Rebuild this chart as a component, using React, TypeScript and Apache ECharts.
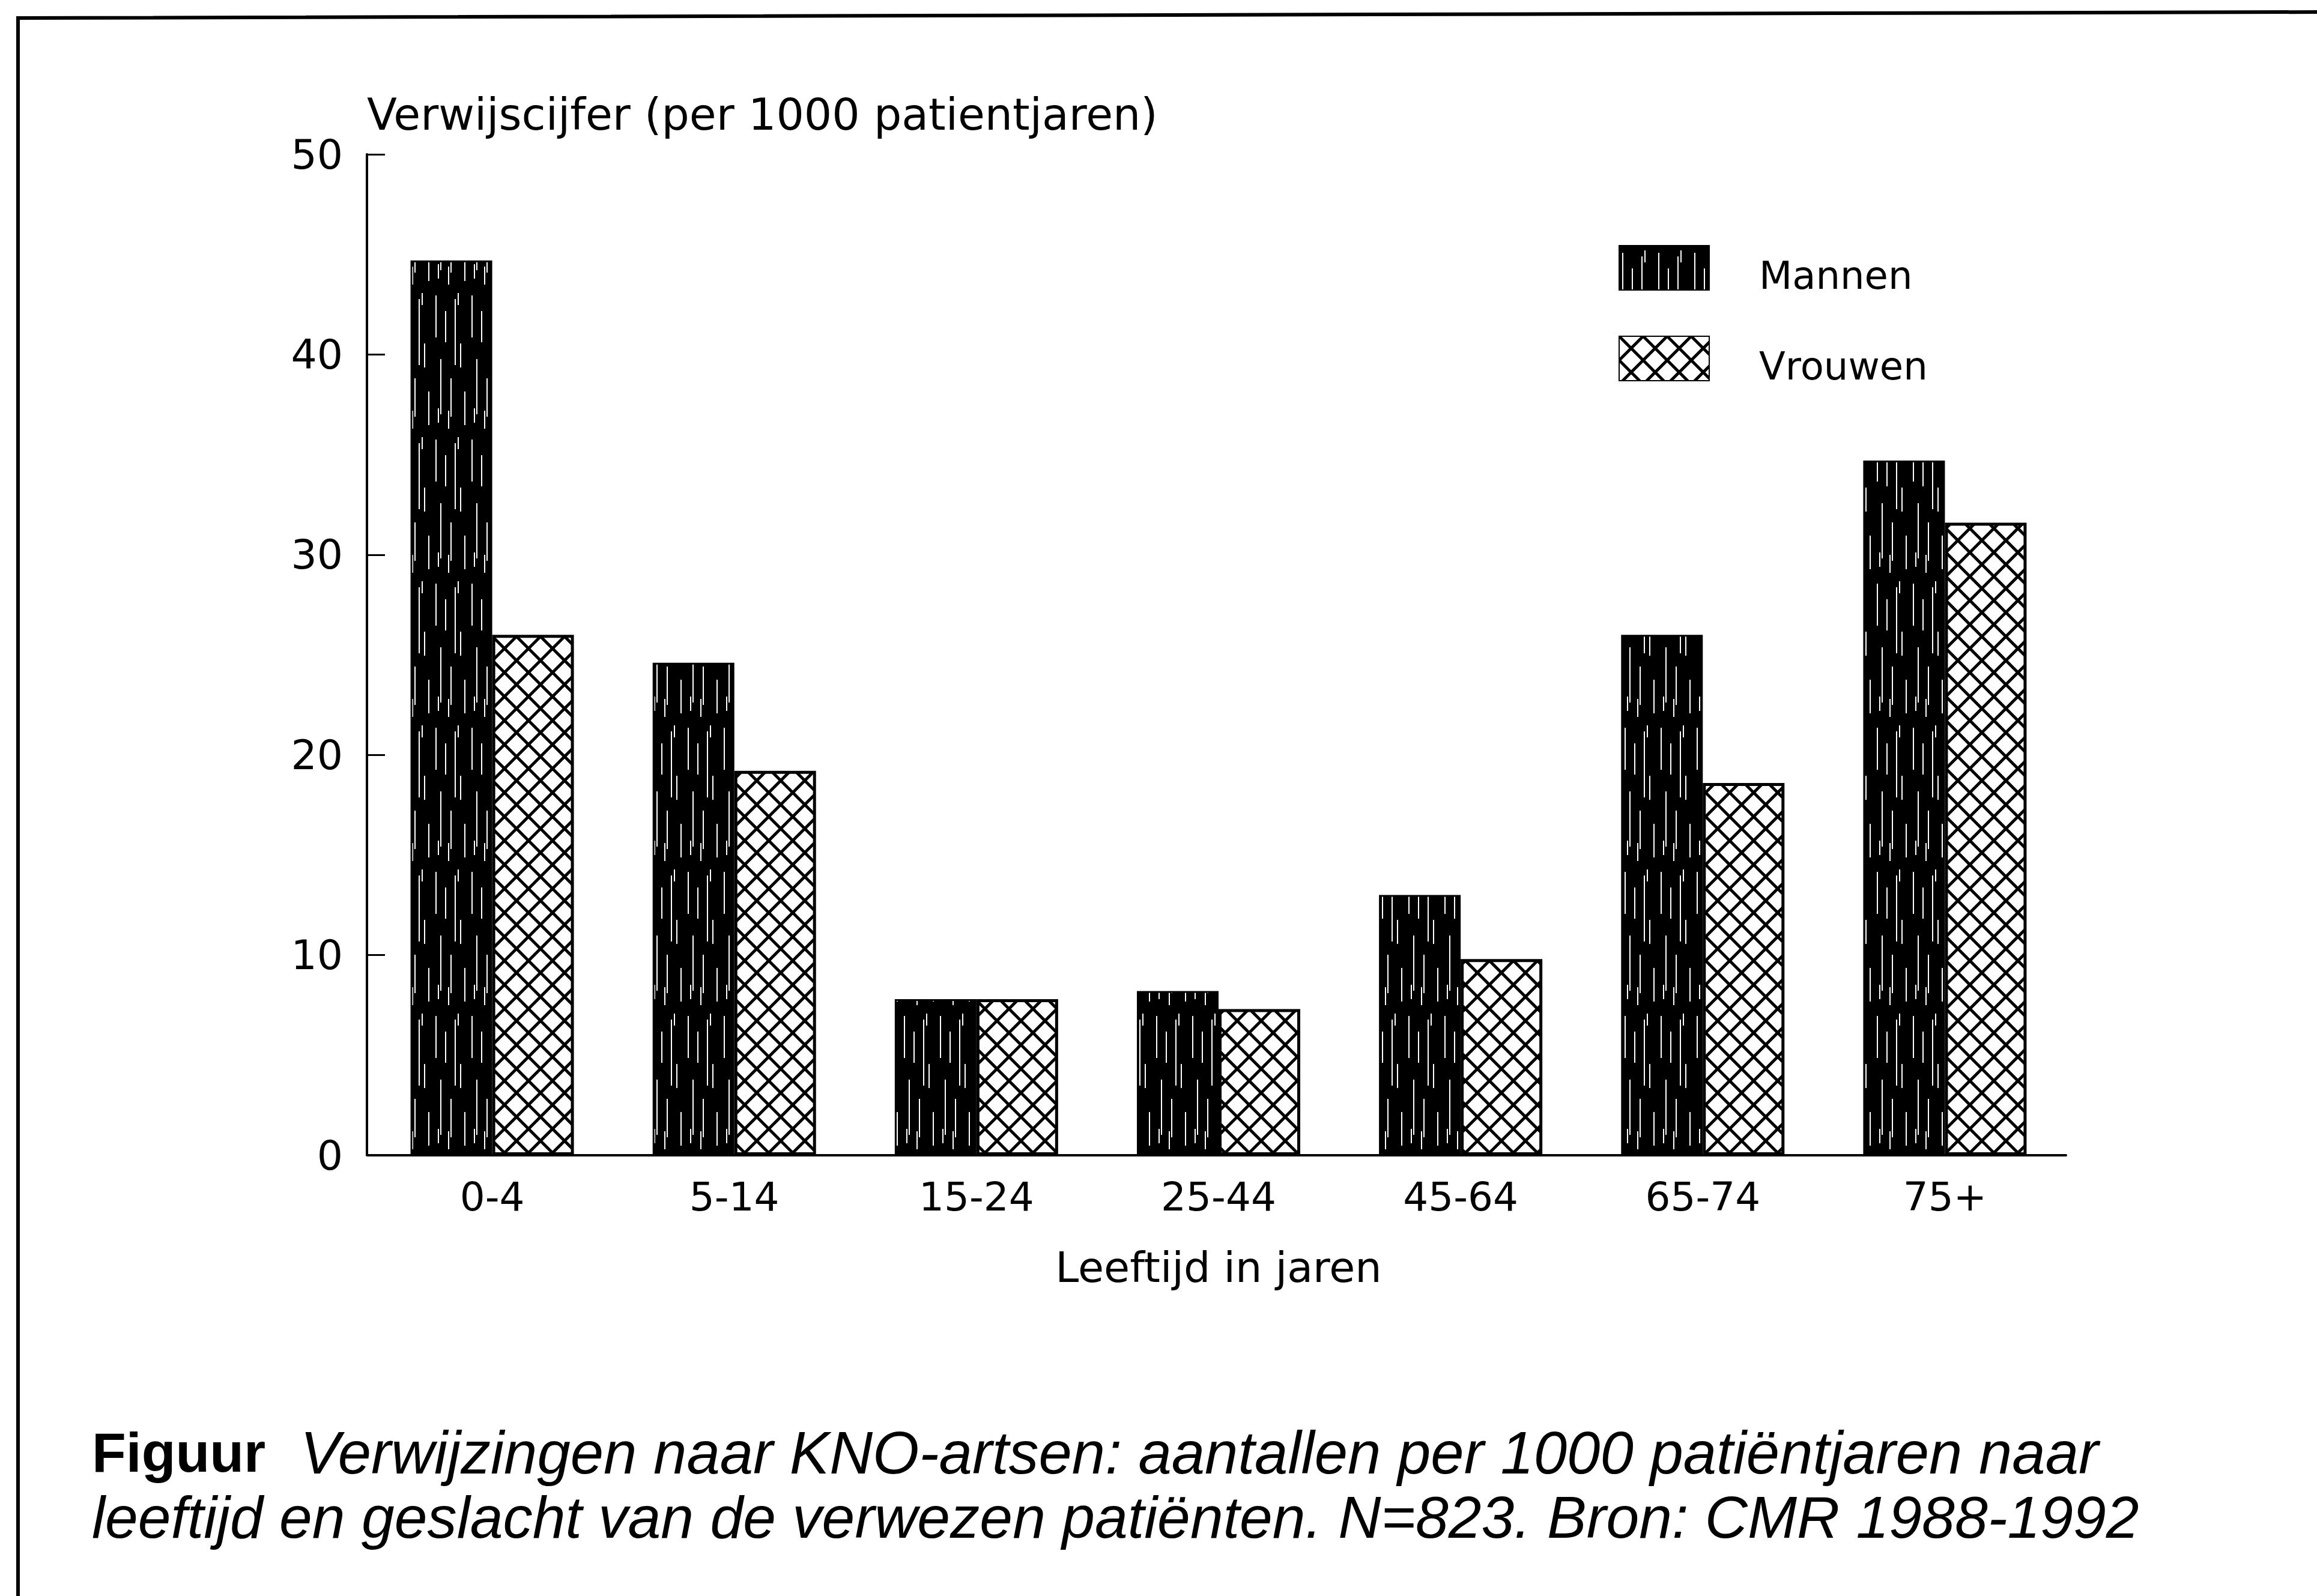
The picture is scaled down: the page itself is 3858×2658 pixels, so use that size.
import React, { useEffect, useRef } from 'react';
import * as echarts from 'echarts';

// ---- data ----
const categories = ['0-4', '5-14', '15-24', '25-44', '45-64', '65-74', '75+'];
const mannen = [44.7, 24.6, 7.8, 8.2, 13.0, 26.0, 34.7];
const vrouwen = [26.0, 19.2, 7.8, 7.3, 9.8, 18.6, 31.6];
const seriesNames = ['Mannen', 'Vrouwen'];
const yMin = 0;
const yMax = 50;
const yInterval = 10;
const yAxisTitle = 'Verwijscijfer (per 1000 patientjaren)';
const xAxisTitle = 'Leeftijd in jaren';
const captionLabel = 'Figuur';
const captionLine1 = 'Verwijzingen naar KNO-artsen: aantallen per 1000 patiëntjaren naar';
const captionLine2 = 'leeftijd en geslacht van de verwezen patiënten. N=823. Bron: CMR 1988-1992';

// texture streaks for the dark (Mannen) fill: [x, y, length]
const streaks = [
  [5, 12, 70], [13, 118, 92], [21, 38, 52], [30, 150, 64], [37, 18, 110],
  [46, 92, 40], [53, 172, 56], [26, 204, 30], [9, 200, 24], [42, 8, 20],
];

function makeStreakTile(): string {
  const W = 60, H = 240;
  const c = document.createElement('canvas');
  c.width = W; c.height = H;
  const ctx = c.getContext('2d')!;
  ctx.fillStyle = '#000';
  ctx.fillRect(0, 0, W, H);
  ctx.fillStyle = '#fff';
  streaks.forEach(([x, y, l]) => {
    ctx.fillRect(x, y, 2, Math.min(l, H - y));
    if (y + l > H) ctx.fillRect(x, 0, 2, y + l - H);
  });
  return c.toDataURL();
}

function makeHatchTile(W: number, H: number): string {
  const c = document.createElement('canvas');
  c.width = W; c.height = H;
  const ctx = c.getContext('2d')!;
  ctx.fillStyle = '#fff';
  ctx.fillRect(0, 0, W, H);
  ctx.strokeStyle = '#000';
  ctx.lineWidth = 5;
  ctx.beginPath();
  ctx.moveTo(-W, -H); ctx.lineTo(2 * W, 2 * H);
  ctx.moveTo(2 * W, -H); ctx.lineTo(-W, 2 * H);
  ctx.stroke();
  return c.toDataURL();
}

export default function App() {
  const ref = useRef<HTMLDivElement>(null);
  useEffect(() => {
    if (!ref.current) return;
    const chart = echarts.init(ref.current, null, { renderer: 'svg' });
    const hatchW = 40, hatchH = 40;
    const mannenFill: any = { image: makeStreakTile(), repeat: 'repeat', imageWidth: 60, imageHeight: 240 };
    const vrouwenFill: any = { image: makeHatchTile(hatchW, hatchH), repeat: 'repeat', imageWidth: hatchW, imageHeight: hatchH };
    const chartFont = 'DejaVu Sans';
    const captionFont = 'Liberation Sans';
    const gridLeft = 618, gridTop = 257, gridW = 2822, gridH = 1667, yOffset = 7;
    const option: any = {
      animation: false,
      backgroundColor: '#fff',
      textStyle: { fontFamily: chartFont, color: '#000' },
      grid: { left: gridLeft, top: gridTop, width: gridW, height: gridH, containLabel: false },
      legend: {
        orient: 'vertical',
        left: 2690,
        top: 403,
        itemWidth: 150,
        itemHeight: 74,
        itemGap: 68,
        icon: 'rect',
        selectedMode: false,
        data: seriesNames,
        formatter: '{t|{name}}',
        textStyle: {
          fontSize: 64,
          color: '#000',
          fontFamily: chartFont,
          rich: {
            t: { fontSize: 64, fontFamily: chartFont, color: '#000', lineHeight: 90, verticalAlign: 'bottom', padding: [0, 0, 0, 78] },
          },
        },
      },
      xAxis: {
        type: 'category',
        data: categories,
        axisLine: { lineStyle: { color: '#000', width: 4 } },
        axisTick: { show: false },
        axisLabel: { fontSize: 66, color: '#000', margin: 36, fontFamily: chartFont },
        name: xAxisTitle,
        nameLocation: 'middle',
        nameGap: 187,
        nameTextStyle: { fontSize: 70, color: '#000', verticalAlign: 'middle', fontFamily: chartFont },
      },
      yAxis: {
        type: 'value',
        min: yMin,
        max: yMax,
        interval: yInterval,
        offset: yOffset,
        axisLine: { show: true, lineStyle: { color: '#000', width: 4 } },
        axisTick: { show: true, inside: true, length: 30, lineStyle: { color: '#000', width: 3 } },
        splitLine: { show: false },
        axisLabel: { fontSize: 68, color: '#000', margin: 40, fontFamily: chartFont },
        name: yAxisTitle,
        nameLocation: 'end',
        nameGap: 67,
        nameTextStyle: { fontSize: 73, color: '#000', align: 'left', verticalAlign: 'middle', fontFamily: chartFont },
      },
      series: [
        {
          name: seriesNames[0],
          type: 'bar',
          data: mannen,
          barWidth: 136,
          barGap: '0%',
          itemStyle: { color: mannenFill, borderColor: '#000', borderWidth: 3 },
        },
        {
          name: seriesNames[1],
          type: 'bar',
          data: vrouwen,
          barWidth: 136,
          barGap: '0%',
          itemStyle: { color: vrouwenFill, borderColor: '#000', borderWidth: 5 },
        },
      ],
      graphic: [
        {
          type: 'polyline',
          shape: { points: [[30, 2658], [30, 30], [3858, 20]] },
          style: { stroke: '#000', lineWidth: 6, fill: null },
        },
        {
          type: 'line',
          shape: { x1: gridLeft - yOffset, y1: gridTop + gridH, x2: gridLeft + 2, y2: gridTop + gridH },
          style: { stroke: '#000', lineWidth: 4 },
        },
        {
          type: 'text',
          x: 153,
          y: 2419,
          style: { text: captionLabel, fontSize: 93, fontWeight: 'bold', fontFamily: captionFont, fill: '#000', verticalAlign: 'middle', align: 'left' },
        },
        {
          type: 'text',
          x: 500,
          y: 2419,
          style: { text: captionLine1, fontSize: 99.5, fontStyle: 'italic', fontFamily: captionFont, fill: '#000', verticalAlign: 'middle', align: 'left' },
        },
        {
          type: 'text',
          x: 153,
          y: 2527,
          style: { text: captionLine2, fontSize: 98.5, fontStyle: 'italic', fontFamily: captionFont, fill: '#000', verticalAlign: 'middle', align: 'left' },
        },
      ],
    };
    chart.setOption(option);
    return () => chart.dispose();
  }, []);
  return <div ref={ref} style={{ position: 'fixed', left: 0, top: 0, width: 3858, height: 2658 }} />;
}
